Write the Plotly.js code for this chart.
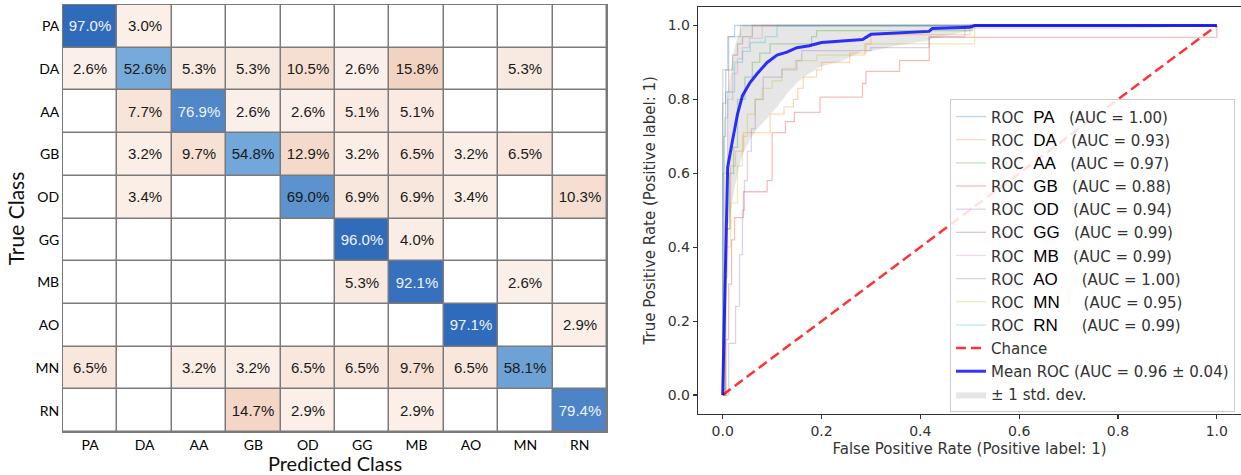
<!DOCTYPE html>
<html><head><meta charset="utf-8">
<script src="https://cdn.plot.ly/plotly-3.0.1.min.js"></script>
<style>html,body{margin:0;padding:0;background:#fff;} #chart{width:1241px;height:475px;}</style>
</head><body><div id="chart"></div>
<script>
// ---------- Confusion matrix data (percent, null = empty cell) ----------
const classes = ['PA','DA','AA','GB','OD','GG','MB','AO','MN','RN'];
const rowPA = [97.0, 3.0, null, null, null, null, null, null, null, null];
const rowDA = [2.6, 52.6, 5.3, 5.3, 10.5, 2.6, 15.8, null, 5.3, null];
const rowAA = [null, 7.7, 76.9, 2.6, 2.6, 5.1, 5.1, null, null, null];
const rowGB = [null, 3.2, 9.7, 54.8, 12.9, 3.2, 6.5, 3.2, 6.5, null];
const rowOD = [null, 3.4, null, null, 69.0, 6.9, 6.9, 3.4, null, 10.3];
const rowGG = [null, null, null, null, null, 96.0, 4.0, null, null, null];
const rowMB = [null, null, null, null, null, 5.3, 92.1, null, 2.6, null];
const rowAO = [null, null, null, null, null, null, null, 97.1, null, 2.9];
const rowMN = [6.5, null, 3.2, 3.2, 6.5, 6.5, 9.7, 6.5, 58.1, null];
const rowRN = [null, null, null, 14.7, 2.9, null, 2.9, null, null, 79.4];
const cmRows = [rowPA, rowDA, rowAA, rowGB, rowOD, rowGG, rowMB, rowAO, rowMN, rowRN];

// ---------- ROC data ----------
const aucValues = [1.00, 0.93, 0.97, 0.88, 0.94, 0.99, 0.99, 1.00, 0.95, 0.99];
const fprPA = [0, 0, 0.006, 0.012, 0.024, 1];
const tprPA = [0, 0.79, 0.88, 0.97, 1, 1];
const fprDA = [0, 0.004, 0.01, 0.016, 0.026, 0.042, 0.096, 0.124, 0.143, 0.152, 0.163, 0.19, 0.2, 0.257, 0.29, 0.3, 0.5, 1];
const tprDA = [0, 0.32, 0.45, 0.62, 0.66, 0.71, 0.76, 0.78, 0.8, 0.83, 0.86, 0.88, 0.9, 0.925, 0.95, 0.975, 1, 1];
const fprAA = [0, 0.006, 0.014, 0.022, 0.03, 0.045, 0.06, 0.075, 0.096, 0.18, 0.19, 0.505, 1];
const tprAA = [0, 0.45, 0.6, 0.67, 0.8, 0.86, 0.9, 0.925, 0.95, 0.97, 0.986, 1, 1];
const fprGB = [0, 0.006, 0.012, 0.018, 0.024, 0.042, 0.09, 0.1, 0.127, 0.145, 0.197, 0.283, 0.29, 0.358, 0.418, 1];
const tprGB = [0, 0.15, 0.3, 0.42, 0.48, 0.55, 0.58, 0.71, 0.74, 0.765, 0.806, 0.843, 0.876, 0.905, 0.968, 1];
const fprOD = [0, 0.012, 0.026, 0.034, 0.04, 0.044, 0.05, 0.058, 0.066, 0.082, 0.12, 0.15, 0.16, 0.3, 0.418, 0.49, 1];
const tprOD = [0, 0.14, 0.24, 0.38, 0.5, 0.58, 0.66, 0.72, 0.8, 0.86, 0.88, 0.905, 0.932, 0.94, 0.97, 1, 1];
const fprGG = [0, 0.002, 0.006, 0.012, 0.02, 0.03, 0.04, 0.06, 1];
const tprGG = [0, 0.7, 0.82, 0.88, 0.92, 0.95, 0.97, 1, 1];
const fprMB = [0, 0.004, 0.01, 0.02, 0.03, 0.04, 0.054, 0.08, 1];
const tprMB = [0, 0.6, 0.8, 0.87, 0.91, 0.94, 0.965, 1, 1];
const fprAO = [0, 0, 0.01, 0.036, 1];
const tprAO = [0, 0.88, 0.97, 1, 1];
const fprMN = [0, 0.006, 0.016, 0.03, 0.04, 0.05, 0.065, 0.08, 0.1, 0.12, 0.147, 0.19, 0.287, 0.51, 1];
const tprMN = [0, 0.4, 0.52, 0.62, 0.7, 0.76, 0.8, 0.83, 0.85, 0.884, 0.905, 0.92, 0.95, 1, 1];
const fprRN = [0, 0, 0.004, 0.01, 0.024, 0.04, 0.056, 0.086, 0.11, 1];
const tprRN = [0, 0.6, 0.75, 0.82, 0.9, 0.93, 0.954, 0.97, 1, 1];
const rocFpr = [fprPA, fprDA, fprAA, fprGB, fprOD, fprGG, fprMB, fprAO, fprMN, fprRN];
const rocTpr = [tprPA, tprDA, tprAA, tprGB, tprOD, tprGG, tprMB, tprAO, tprMN, tprRN];

const meanFpr = [0, 0.01, 0.02, 0.03, 0.04, 0.055, 0.07, 0.09, 0.11, 0.13, 0.15, 0.175, 0.2, 0.24, 0.283, 0.3, 0.35, 0.418, 0.424, 0.5, 0.51, 0.6, 0.8, 1];
const meanTpr = [0, 0.616, 0.69, 0.76, 0.81, 0.845, 0.87, 0.9, 0.92, 0.928, 0.94, 0.945, 0.954, 0.958, 0.962, 0.976, 0.98, 0.984, 0.992, 0.995, 1, 1, 1, 1];
const stdUpper = [0, 0.8, 0.92, 0.97, 1, 1, 1, 1, 1, 1, 1, 1, 1, 1, 1, 1, 1, 1, 1, 1, 1, 1, 1, 1];
const stdLower = [0, 0.45, 0.53, 0.6, 0.65, 0.69, 0.72, 0.75, 0.78, 0.815, 0.845, 0.87, 0.89, 0.903, 0.93, 0.93, 0.945, 0.96, 0.965, 0.985, 0.99, 0.99, 0.99, 1];
const meanAuc = 0.96, stdAuc = 0.04;
const chanceX = [0, 1], chanceY = [0, 1];

// ---------- styles ----------
const rocColors = ['rgba(31,119,180,0.3)','rgba(255,127,14,0.3)','rgba(44,160,44,0.3)','rgba(214,39,40,0.3)',
  'rgba(148,103,189,0.3)','rgba(140,86,75,0.3)','rgba(227,119,194,0.3)','rgba(127,127,127,0.3)',
  'rgba(188,189,34,0.3)','rgba(23,190,207,0.3)'];
const namePad = ['  ','  ','  ','  ','  ','  ','  ','    ','    ','    '];
const W = 1241, H = 475;

// heatmap layers
const isDiag = (i,j) => i === j;
const offZ = cmRows.map((r,i) => r.map((v,j) => isDiag(i,j) ? null : (v === null ? 0 : v)));
const offText = cmRows.map((r,i) => r.map((v,j) => (!isDiag(i,j) && v !== null) ? v.toFixed(1) + '%' : ''));
const diagHiZ = cmRows.map((r,i) => r.map((v,j) => (isDiag(i,j) && v >= 75) ? v : null));
const diagHiText = cmRows.map((r,i) => r.map((v,j) => (isDiag(i,j) && v >= 75) ? v.toFixed(1) + '%' : ''));
const diagLoZ = cmRows.map((r,i) => r.map((v,j) => (isDiag(i,j) && v < 75) ? v : null));
const diagLoText = cmRows.map((r,i) => r.map((v,j) => (isDiag(i,j) && v < 75) ? v.toFixed(1) + '%' : ''));

const cellFont = {family: 'Liberation Sans, Arial, sans-serif', size: 15};
const blueScale = [[0, '#7aaedc'], [1, '#2b66b8']];
const peachScale = [[0, '#ffffff'], [0.01, '#fdf5f0'], [1, '#f2d3c1']];
const hmCommon = {type: 'heatmap', x: classes, y: classes, xaxis: 'x', yaxis: 'y', xgap: 1.5, ygap: 1.5,
  showscale: false, hoverinfo: 'skip', texttemplate: '%{text}'};

const traces = [
  Object.assign({}, hmCommon, {z: offZ, text: offText, colorscale: peachScale, zmin: 0, zmax: 16,
    textfont: Object.assign({color: '#1a1a1a'}, cellFont)}),
  Object.assign({}, hmCommon, {z: diagLoZ, text: diagLoText, colorscale: blueScale, zmin: 50, zmax: 100,
    textfont: Object.assign({color: '#1a1a1a'}, cellFont)}),
  Object.assign({}, hmCommon, {z: diagHiZ, text: diagHiText, colorscale: blueScale, zmin: 50, zmax: 100,
    textfont: Object.assign({color: '#eef4fb'}, cellFont)}),
];

// std band
traces.push({x: meanFpr, y: stdUpper, xaxis: 'x2', yaxis: 'y2', mode: 'lines', line: {width: 0, color: 'rgba(128,128,128,0)'},
  showlegend: false, hoverinfo: 'skip'});
traces.push({x: meanFpr, y: stdLower, xaxis: 'x2', yaxis: 'y2', mode: 'lines', line: {width: 0, color: 'rgba(128,128,128,0)'},
  fill: 'tonexty', fillcolor: 'rgba(128,128,128,0.2)', name: '<span style="font-size:15px">± 1 std. dev.</span>',
  legendrank: 13, hoverinfo: 'skip'});

const sp = s => '<span style="font-size:15px">' + s + '</span>';
classes.forEach((c, k) => {
  traces.push({x: rocFpr[k], y: rocTpr[k], xaxis: 'x2', yaxis: 'y2', mode: 'lines',
    line: {color: rocColors[k], width: 1.3, shape: 'hv'},
    name: sp('ROC  ') + '<span style="font-family:Liberation Sans;font-size:17px;color:#000">' + c + '</span>' +
          sp(namePad[k] + ' (AUC = ' + aucValues[k].toFixed(2) + ')'),
    legendrank: k + 1, hoverinfo: 'skip'});
});
traces.push({x: chanceX, y: chanceY, xaxis: 'x2', yaxis: 'y2', mode: 'lines',
  line: {color: 'rgba(255,0,0,0.8)', width: 2.5, dash: '10px,5px'}, name: sp('Chance'), legendrank: 11, hoverinfo: 'skip'});
traces.push({x: meanFpr, y: meanTpr, xaxis: 'x2', yaxis: 'y2', mode: 'lines',
  line: {color: 'rgba(0,0,255,0.8)', width: 3}, name: sp('Mean ROC (AUC = ' + meanAuc.toFixed(2) + ' ± ' + stdAuc.toFixed(2) + ')'),
  legendrank: 12, hoverinfo: 'skip'});

const tickFontRoc = {family: 'DejaVu Sans', size: 14, color: '#333'};
const layout = {
  width: W, height: H, margin: {l: 0, r: 0, t: 0, b: 0}, paper_bgcolor: '#fff', plot_bgcolor: '#fff',
  hovermode: false, showlegend: true,
  xaxis: {domain: [63/W, 607/W], anchor: 'y', type: 'category', showgrid: false, zeroline: false,
    showline: true, mirror: true, linecolor: '#7a7a7a', linewidth: 1, ticks: '', automargin: false,
    tickfont: {family: 'Lato', size: 14, color: '#000'},
    title: {text: 'Predicted Class', font: {family: 'Lato', size: 20, color: '#111'}, standoff: 1}},
  yaxis: {domain: [1 - 432/H, 1 - 5/H], anchor: 'x', type: 'category', autorange: 'reversed', showgrid: false,
    zeroline: false, showline: true, mirror: true, linecolor: '#7a7a7a', linewidth: 1, ticks: '', automargin: false,
    tickfont: {family: 'Lato', size: 14, color: '#000'},
    title: {text: 'True Class', font: {family: 'Lato', size: 21, color: '#111'}, standoff: 5}},
  xaxis2: {domain: [698/W, 1], anchor: 'y2', range: [-0.05, 1.049], showgrid: false, zeroline: false,
    showline: true, mirror: true, linecolor: '#333', linewidth: 1.3, ticks: 'outside', ticklen: 4, tickwidth: 1.2,
    tickcolor: '#333', tick0: 0, dtick: 0.2, tickformat: '.1f', tickfont: tickFontRoc, automargin: false,
    title: {text: 'False Positive Rate (Positive label: 1)', font: {family: 'DejaVu Sans', size: 15, color: '#333'}, standoff: 6}},
  yaxis2: {domain: [1 - 413.5/H, 1 - 7/H], anchor: 'x2', range: [-0.05, 1.05], showgrid: false, zeroline: false,
    showline: true, mirror: true, linecolor: '#333', linewidth: 1.3, ticks: 'outside', ticklen: 4, tickwidth: 1.2,
    tickcolor: '#333', tick0: 0, dtick: 0.2, tickformat: '.1f', tickfont: tickFontRoc, automargin: false,
    title: {text: 'True Positive Rate (Positive label: 1)', font: {family: 'DejaVu Sans', size: 15, color: '#333'}, standoff: 8}},
  legend: {x: 1235/W, xanchor: 'right', y: 1 - 99/H, yanchor: 'top', bgcolor: 'rgba(255,255,255,0.85)',
    bordercolor: '#cccccc', borderwidth: 1, font: {family: 'DejaVu Sans', size: 15.5, color: '#333'},
    traceorder: 'normal', itemwidth: 30},
  shapes: [{type: 'rect', xref: 'x domain', yref: 'y domain', x0: 0, x1: 1, y0: 0, y1: 1,
    fillcolor: '#7a7a7a', line: {width: 0}, layer: 'below'}]
};
Plotly.newPlot('chart', traces, layout, {staticPlot: true, displayModeBar: false});
</script></body></html>
